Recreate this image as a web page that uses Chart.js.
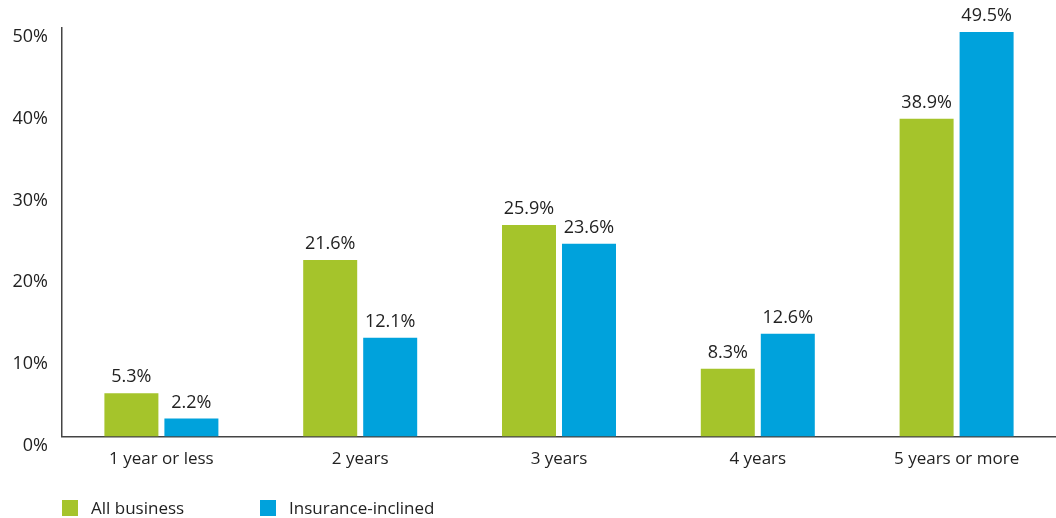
<!DOCTYPE html>
<html>
<head>
<meta charset="utf-8">
<script src="https://cdn.jsdelivr.net/npm/chart.js@4"></script>
<style>
  html, body { margin: 0; padding: 0; background: #fff; }
  #wrap { position: relative; width: 1056px; height: 518px; }
  #legend { position: absolute; left: 62px; top: 496px; font: 17px "Open Sans", sans-serif; color: #222; display: flex; }
  .item { display: flex; align-items: center; }
  .box { width: 16px; height: 16px; margin-right: 13px; }
</style>
</head>
<body>
<div id="wrap">
  <canvas id="chart" width="1056" height="518"></canvas>
  <div id="legend"></div>
</div>
<script>
// values
const categories = ['1 year or less', '2 years', '3 years', '4 years', '5 years or more'];
const allBusiness = [5.3, 21.6, 25.9, 8.3, 38.9];
const insuranceInclined = [2.2, 12.1, 23.6, 12.6, 49.5];
const seriesNames = ['All business', 'Insurance-inclined'];
const seriesColors = ['#a5c42b', '#00a2dc'];
const yTicks = [0, 10, 20, 30, 40, 50];

const FONT = '"Open Sans", sans-serif';
const TEXT = '#222';

// draws the value above each bar
const valueLabels = {
    id: 'valueLabels',
    afterDatasetsDraw(chart) {
        const ctx = chart.ctx;
        ctx.save();
        ctx.font = '18px ' + FONT;
        ctx.fillStyle = TEXT;
        ctx.textAlign = 'center';
        ctx.textBaseline = 'alphabetic';
        chart.data.datasets.forEach((ds, i) => {
            chart.getDatasetMeta(i).data.forEach((bar, j) => {
                ctx.fillText(ds.data[j].toFixed(1) + '%', bar.x, bar.y - 11);
            });
        });
        ctx.restore();
    }
};

const ctx = document.getElementById('chart').getContext('2d');
const chart = new Chart(ctx, {
    type: 'bar',
    data: {
        labels: categories,
        datasets: [
            { label: seriesNames[0], data: allBusiness, backgroundColor: seriesColors[0] },
            { label: seriesNames[1], data: insuranceInclined, backgroundColor: seriesColors[1] }
        ]
    },
    options: {
        responsive: false,
        animation: false,
        categoryPercentage: 0.6036,
        barPercentage: 0.9,
        layout: { padding: { top: 28, right: 0, bottom: 37, left: 0 } },
        plugins: {
            legend: { display: false },
            tooltip: { enabled: false }
        },
        scales: {
            x: {
                grid: { display: false, drawTicks: false },
                border: { display: true, color: '#444', width: 1.5 },
                ticks: { color: TEXT, font: { family: FONT, size: 17 }, padding: 12 }
            },
            y: {
                min: 0,
                max: 50,
                afterFit(scale) { scale.width = 62; },
                afterBuildTicks(scale) { scale.ticks = yTicks.map(v => ({ value: v })); },
                grid: { display: false, drawTicks: false },
                border: { display: true, color: '#444', width: 1.5 },
                ticks: {
                    color: TEXT,
                    font: { family: FONT, size: 18 },
                    padding: 14,
                    labelOffset: 9,
                    callback: v => v + '%'
                }
            }
        }
    },
    plugins: [valueLabels]
});

// legend under the chart
const legend = document.getElementById('legend');
seriesNames.forEach((name, i) => {
    const item = document.createElement('div');
    item.className = 'item';
    item.style.width = i === 0 ? '198px' : 'auto';
    item.innerHTML = '<span class="box" style="background:' + seriesColors[i] + '"></span><span>' + name + '</span>';
    legend.appendChild(item);
});
</script>
</body>
</html>
